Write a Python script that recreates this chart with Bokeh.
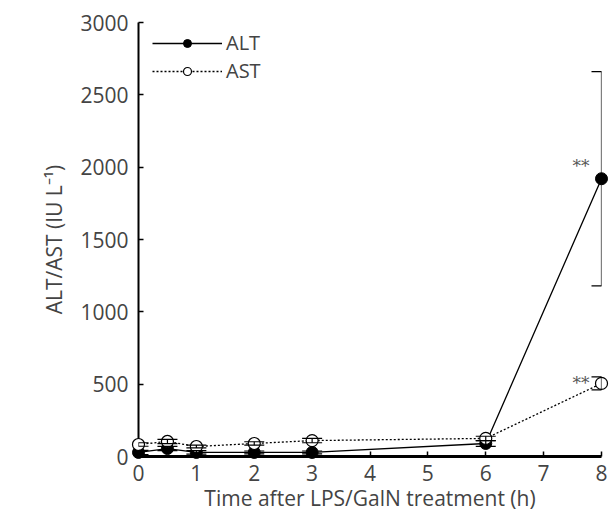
from bokeh.plotting import figure
from bokeh.models import (ColumnDataSource, Range1d, Whisker, TeeHead, Legend,
                          LegendItem, FixedTicker)
from bokeh.core.properties import value
from bokeh.embed import file_html
from bokeh.resources import INLINE

# ---- data ----
time_h = [0, 0.5, 1, 2, 3, 6, 8]
alt_mean = [28, 55, 28, 28, 28, 90, 1920]
alt_err = [15, 15, 12, 10, 10, 20, 740]
ast_mean = [83, 104, 69, 90, 110, 125, 505]
ast_err = [12, 15, 10, 12, 15, 15, 45]
sig_x = [8, 8]
sig_y = [2005, 505]
sig_text = ["**", "**"]
x_ticks = [0, 1, 2, 3, 4, 5, 6, 7, 8]
y_ticks = [0, 500, 1000, 1500, 2000, 2500, 3000]

FONT = "Open Sans"

alt_src = ColumnDataSource(dict(
    x=time_h, y=alt_mean,
    lo=[m - e for m, e in zip(alt_mean, alt_err)],
    hi=[m + e for m, e in zip(alt_mean, alt_err)]))
ast_src = ColumnDataSource(dict(
    x=time_h, y=ast_mean,
    lo=[m - e for m, e in zip(ast_mean, ast_err)],
    hi=[m + e for m, e in zip(ast_mean, ast_err)]))

p = figure(width=611, height=514, output_backend="svg", toolbar_location=None,
           x_range=Range1d(0, 8), y_range=Range1d(0, 3000),
           min_border_left=138, min_border_right=10, min_border_top=22,
           min_border_bottom=57)
p.outline_line_color = None
p.grid.visible = False
p.background_fill_color = "white"

for src in (alt_src, ast_src):
    w = Whisker(base="x", upper="hi", lower="lo", source=src, dimension="height",
                line_color="black", line_width=1.2, level="overlay",
                upper_head=TeeHead(size=20, line_width=1.2),
                lower_head=TeeHead(size=20, line_width=1.2))
    p.add_layout(w)

alt_line = p.line("x", "y", source=alt_src, line_color="black", line_width=1.3,
                  level="overlay")
alt_pts = p.scatter("x", "y", source=alt_src, size=12, marker="circle",
                    fill_color="black", line_color="black", level="overlay")
ast_line = p.line("x", "y", source=ast_src, line_color="black", line_width=1.3,
                  line_dash="2 2", level="overlay")
ast_pts = p.scatter("x", "y", source=ast_src, size=12, marker="circle",
                    fill_color="white", line_color="black", line_width=1.2,
                    level="overlay")

p.text(x=sig_x, y=sig_y, text=sig_text, text_align="right", text_baseline="middle",
       x_offset=-12, text_color="#555555", text_font=value("DejaVu Serif"),
       text_font_size="17px", level="overlay")

legend = Legend(items=[LegendItem(label="ALT", renderers=[alt_line, alt_pts]),
                       LegendItem(label="AST", renderers=[ast_line, ast_pts])],
                location=(14, 372), glyph_width=70, glyph_height=20,
                label_height=20, spacing=1, padding=5, margin=0,
                label_standoff=4, border_line_color=None,
                background_fill_alpha=0,
                label_text_font=FONT, label_text_font_size="20px")
p.add_layout(legend)

for ax in (p.xaxis[0], p.yaxis[0]):
    ax.axis_line_width = 2
    ax.major_tick_in = 5
    ax.major_tick_out = 0
    ax.major_tick_line_width = 1.5
    ax.minor_tick_line_color = None
    ax.major_label_text_font = FONT
    ax.major_label_text_font_size = "21px"
    ax.axis_label_text_font = FONT
    ax.axis_label_text_font_size = "21px"
    ax.axis_label_text_font_style = "normal"

p.xaxis.ticker = FixedTicker(ticks=x_ticks)
p.yaxis.ticker = FixedTicker(ticks=y_ticks)
p.xaxis.axis_line_width = 3
p.xaxis.axis_label = "Time after LPS/GalN treatment (h)"
p.yaxis.axis_label = "ALT/AST (IU L\u207b\u00b9)"
p.xaxis.major_label_standoff = 8
p.yaxis.major_label_standoff = 10
p.xaxis.axis_label_standoff = 0
p.yaxis.axis_label_standoff = 9

open("out.html", "w").write(file_html(p, INLINE))
